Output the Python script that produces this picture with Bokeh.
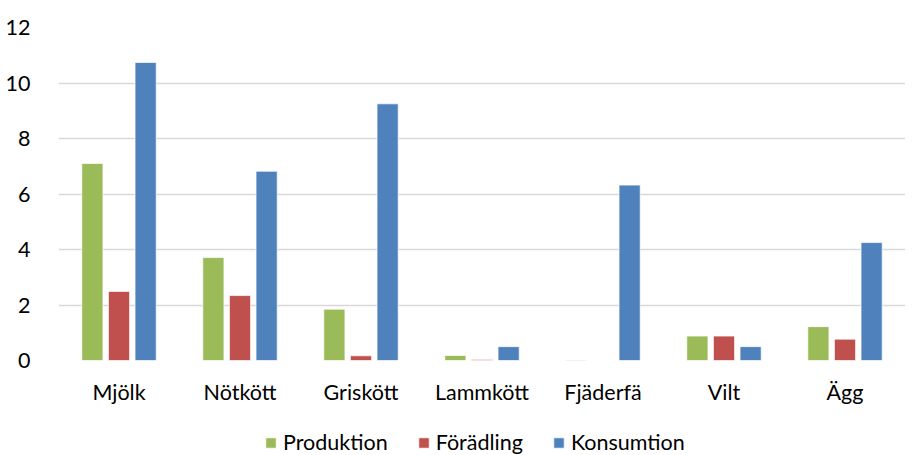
from bokeh.plotting import figure
from bokeh.layouts import column
from bokeh.models import ColumnDataSource, FactorRange, Range1d, Legend, LegendItem, SingleIntervalTicker
from bokeh.transform import dodge
from bokeh.embed import file_html
from bokeh.resources import INLINE

categories = ["Mjölk", "Nötkött", "Griskött", "Lammkött", "Fjäderfä", "Vilt", "Ägg"]
produktion = [7.1, 3.71, 1.85, 0.18, 0.02, 0.88, 1.22]
foradling = [2.49, 2.34, 0.17, 0.04, 0.0, 0.88, 0.77]
konsumtion = [10.74, 6.82, 9.25, 0.5, 6.32, 0.5, 4.25]
series_names = ["Produktion", "Förädling", "Konsumtion"]
colors = ["#9BBB59", "#C0504D", "#4F81BD"]

src = ColumnDataSource(dict(cat=categories, p=produktion, f=foradling, k=konsumtion))

FONT = "Lato"
FS = "21.5px"
p = figure(x_range=FactorRange(*categories, range_padding=0), y_range=Range1d(0, 12),
           width=905, height=425, output_backend="svg", toolbar_location=None,
           min_border_top=27, min_border_right=0, min_border_left=58, min_border_bottom=65)
p.outline_line_color = None

for key, off, col in zip(["p", "f", "k"], [-0.22, 0.0, 0.22], colors):
    p.vbar(x=dodge("cat", off, range=p.x_range), top=key, width=0.175, source=src,
           fill_color=col, line_color="white", line_width=0.7)

p.xgrid.grid_line_color = None
p.ygrid.grid_line_color = "#D9D9D9"
p.ygrid.grid_line_width = 1.3
p.yaxis.ticker = SingleIntervalTicker(interval=2)
for ax in (p.xaxis[0], p.yaxis[0]):
    ax.axis_line_color = None
    ax.major_tick_line_color = None
    ax.minor_tick_line_color = None
    ax.major_label_text_font = FONT
    ax.major_label_text_font_size = FS
    ax.major_label_text_color = "#000000"
p.xaxis.major_label_standoff = 12
p.yaxis.major_label_standoff = 22

# legend strip below the chart (its frame is aligned with the chart's frame)
lg = figure(width=905, height=30, x_range=Range1d(0, 1), y_range=Range1d(0, 1),
            output_backend="svg", toolbar_location=None,
            min_border_top=0, min_border_bottom=0, min_border_left=0, min_border_right=0)
lg.outline_line_color = None
lg.axis.visible = False
lg.grid.visible = False
items = []
for n, col in zip(series_names, colors):
    # legend-key carrier: one bar placed outside the visible range
    r = lg.vbar(x=[5], top=[5], width=0.1, fill_color=col, line_color="white", line_width=0.7)
    items.append(LegendItem(label=n, renderers=[r]))
legend = Legend(items=items, orientation="horizontal", location=(206, 0),
                label_text_font=FONT, label_text_font_size=FS, label_text_color="#000000",
                glyph_width=13, glyph_height=13, spacing=29, label_standoff=6,
                border_line_color=None, background_fill_alpha=0, padding=0, margin=0)
lg.add_layout(legend)

open("out.html", "w").write(file_html(column(p, lg, spacing=0), INLINE))
